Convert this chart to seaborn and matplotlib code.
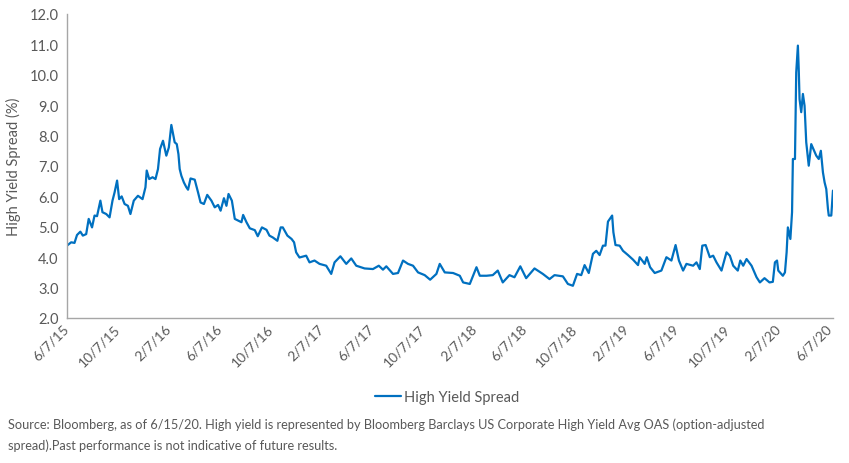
import matplotlib
matplotlib.use('Agg')
import matplotlib.pyplot as plt
import seaborn as sns
import pandas as pd

## values (Bloomberg Barclays US HY OAS, %)
dates = [
    '2015-06-07', '2015-06-17', '2015-06-25', '2015-07-01', '2015-07-09', '2015-07-15',
    '2015-07-23', '2015-07-29', '2015-08-06', '2015-08-12', '2015-08-18', '2015-08-26',
    '2015-08-31', '2015-09-09', '2015-09-17', '2015-09-24', '2015-09-29', '2015-10-05',
    '2015-10-10', '2015-10-16', '2015-10-23', '2015-10-31', '2015-11-06', '2015-11-14',
    '2015-11-24', '2015-12-05', '2015-12-12', '2015-12-15', '2015-12-21', '2015-12-29',
    '2016-01-05', '2016-01-11', '2016-01-16', '2016-01-23', '2016-01-31', '2016-02-06',
    '2016-02-12', '2016-02-20', '2016-02-25', '2016-02-29', '2016-03-03', '2016-03-07',
    '2016-03-13', '2016-03-19', '2016-03-23', '2016-03-29', '2016-04-08', '2016-04-16',
    '2016-04-22', '2016-04-30', '2016-05-08', '2016-05-18', '2016-05-26', '2016-06-03',
    '2016-06-09', '2016-06-17', '2016-06-23', '2016-06-28', '2016-07-06', '2016-07-13',
    '2016-07-22', '2016-07-29', '2016-08-02', '2016-08-10', '2016-08-18', '2016-08-30',
    '2016-09-06', '2016-09-16', '2016-09-27', '2016-10-04', '2016-10-12', '2016-10-23',
    '2016-10-31', '2016-11-05', '2016-11-16', '2016-11-26', '2016-12-02', '2016-12-07',
    '2016-12-15', '2016-12-31', '2017-01-08', '2017-01-20', '2017-02-01', '2017-02-17',
    '2017-03-01', '2017-03-09', '2017-03-23', '2017-04-06', '2017-04-18', '2017-04-30',
    '2017-05-20', '2017-06-09', '2017-06-23', '2017-07-03', '2017-07-11', '2017-07-27',
    '2017-08-08', '2017-08-20', '2017-09-01', '2017-09-13', '2017-09-25', '2017-10-11',
    '2017-10-24', '2017-11-08', '2017-11-16', '2017-11-28', '2017-12-18', '2018-01-03',
    '2018-01-11', '2018-01-27', '2018-02-12', '2018-02-20', '2018-03-08', '2018-03-23',
    '2018-04-04', '2018-04-16', '2018-05-02', '2018-05-14', '2018-05-28', '2018-06-11',
    '2018-07-01', '2018-07-21', '2018-08-06', '2018-08-18', '2018-09-07', '2018-09-19',
    '2018-10-01', '2018-10-11', '2018-10-21', '2018-10-29', '2018-11-08', '2018-11-18',
    '2018-11-26', '2018-12-04', '2018-12-12', '2018-12-18', '2018-12-24', '2019-01-03',
    '2019-01-06', '2019-01-11', '2019-01-21', '2019-01-29', '2019-02-10', '2019-02-22',
    '2019-03-06', '2019-03-10', '2019-03-22', '2019-03-27', '2019-04-04', '2019-04-15',
    '2019-05-01', '2019-05-13', '2019-05-25', '2019-06-04', '2019-06-12', '2019-06-22',
    '2019-06-30', '2019-07-16', '2019-07-24', '2019-08-01', '2019-08-07', '2019-08-15',
    '2019-08-25', '2019-09-02', '2019-09-10', '2019-09-22', '2019-10-04', '2019-10-12',
    '2019-10-20', '2019-10-31', '2019-11-06', '2019-11-13', '2019-11-21', '2019-12-03',
    '2019-12-15', '2019-12-23', '2020-01-03', '2020-01-15', '2020-01-23', '2020-01-28',
    '2020-02-02', '2020-02-05', '2020-02-16', '2020-02-21', '2020-02-25', '2020-02-28',
    '2020-03-05', '2020-03-09', '2020-03-11', '2020-03-16', '2020-03-19', '2020-03-23',
    '2020-03-25', '2020-03-27', '2020-03-31', '2020-04-04', '2020-04-08', '2020-04-12',
    '2020-04-18', '2020-04-24', '2020-05-01', '2020-05-06', '2020-05-12', '2020-05-17',
    '2020-05-22', '2020-05-26', '2020-05-30', '2020-06-03', '2020-06-05', '2020-06-11',
    '2020-06-15',
]
spread = [
    4.38, 4.49, 4.47, 4.73, 4.84, 4.71,
    4.76, 5.26, 4.98, 5.37, 5.35, 5.86,
    5.48, 5.42, 5.31, 5.86, 6.13, 6.52,
    5.91, 6.00, 5.75, 5.69, 5.42, 5.86,
    6.02, 5.91, 6.30, 6.85, 6.57, 6.63,
    6.57, 6.90, 7.56, 7.83, 7.34, 7.61,
    8.35, 7.78, 7.72, 7.39, 6.90, 6.68,
    6.46, 6.30, 6.22, 6.59, 6.55, 6.13,
    5.80, 5.75, 6.05, 5.86, 5.64, 5.72,
    5.53, 5.94, 5.69, 6.08, 5.86, 5.26,
    5.20, 5.15, 5.39, 5.15, 4.95, 4.89,
    4.69, 4.98, 4.90, 4.71, 4.65, 4.54,
    4.98, 4.98, 4.71, 4.60, 4.49, 4.16,
    3.99, 4.05, 3.83, 3.89, 3.78, 3.72,
    3.45, 3.83, 4.03, 3.78, 3.96, 3.72,
    3.63, 3.61, 3.72, 3.59, 3.70, 3.45,
    3.48, 3.89, 3.78, 3.72, 3.50, 3.41,
    3.26, 3.45, 3.78, 3.50, 3.48, 3.39,
    3.17, 3.12, 3.67, 3.39, 3.39, 3.41,
    3.56, 3.17, 3.41, 3.34, 3.70, 3.31,
    3.63, 3.45, 3.28, 3.41, 3.37, 3.12,
    3.06, 3.45, 3.41, 3.74, 3.48, 4.11,
    4.21, 4.07, 4.38, 4.38, 5.17, 5.37,
    4.82, 4.40, 4.38, 4.21, 4.07, 3.92,
    3.74, 4.00, 3.78, 4.00, 3.67, 3.48,
    3.56, 4.00, 3.89, 4.40, 3.89, 3.56,
    3.78, 3.72, 3.83, 3.61, 4.38, 4.40,
    4.00, 4.05, 3.83, 3.56, 4.16, 4.05,
    3.72, 3.56, 3.89, 3.72, 3.94, 3.72,
    3.34, 3.17, 3.31, 3.17, 3.19, 3.83,
    3.89, 3.56, 3.39, 3.50, 4.16, 4.98,
    4.60, 5.48, 7.23, 7.23, 10.08, 10.96,
    10.19, 9.20, 8.77, 9.37, 8.98, 7.78,
    7.01, 7.72, 7.50, 7.34, 7.23, 7.50,
    6.79, 6.46, 6.24, 5.59, 5.37, 5.37,
    6.19,
]

tick_labels = ['6/7/15', '10/7/15', '2/7/16', '6/7/16', '10/7/16', '2/7/17',
               '6/7/17', '10/7/17', '2/7/18', '6/7/18', '10/7/18', '2/7/19',
               '6/7/19', '10/7/19', '2/7/20', '6/7/20']
y_ticks = [2.0, 3.0, 4.0, 5.0, 6.0, 7.0, 8.0, 9.0, 10.0, 11.0, 12.0]

df = pd.DataFrame({'Date': pd.to_datetime(dates), 'High Yield Spread': spread})

sns.set_style('white')
plt.rcParams['font.family'] = ['Lato', 'DejaVu Sans']
text_col = '#595959'

fig = plt.figure(figsize=(8.49, 4.64), dpi=100)
ax = fig.add_axes([0.0789, 0.3125, 0.9022, 0.6552])

sns.lineplot(data=df, x='Date', y='High Yield Spread', color='#0070C0',
             linewidth=1.6, label='High Yield Spread', legend=False, ax=ax)

ax.set_xlim(df['Date'].iloc[0], df['Date'].iloc[-1])
ax.set_ylim(2.0, 12.0)
ax.set_yticks(y_ticks)
ax.set_yticklabels([f'{v:.1f}' for v in y_ticks], fontsize=10.5, color=text_col)
ax.set_xticks(pd.to_datetime(tick_labels, format='%m/%d/%y'))
ax.set_xticklabels(tick_labels, rotation=45, ha='right', va='center',
                   rotation_mode='anchor', fontsize=10, color=text_col)
ax.tick_params(axis='both', length=0, pad=6)

ax.set_xlabel('')
ax.set_ylabel('High Yield Spread (%)', fontsize=10.5, color=text_col)
ax.yaxis.set_label_coords(-0.06, 0.5)

for side in ['top', 'right']:
    ax.spines[side].set_visible(False)
for side in ['left', 'bottom']:
    ax.spines[side].set_color('#a6a6a6')
    ax.spines[side].set_linewidth(1.0)

handles, labels = ax.get_legend_handles_labels()
leg = fig.legend(handles, labels, loc='center', bbox_to_anchor=(0.527, 0.142),
                 frameon=False, handlelength=1.8, handletextpad=0.2,
                 prop={'size': 10.5})
for t in leg.get_texts():
    t.set_color(text_col)

fig.text(0.009, 0.084,
         'Source: Bloomberg, as of 6/15/20. High yield is represented by Bloomberg Barclays '
         'US Corporate High Yield Avg OAS (option-adjusted',
         fontsize=9.2, color=text_col, va='center')
fig.text(0.009, 0.039,
         'spread).Past performance is not indicative of future results.',
         fontsize=9.2, color=text_col, va='center')

fig.savefig('out.png', dpi=100)
